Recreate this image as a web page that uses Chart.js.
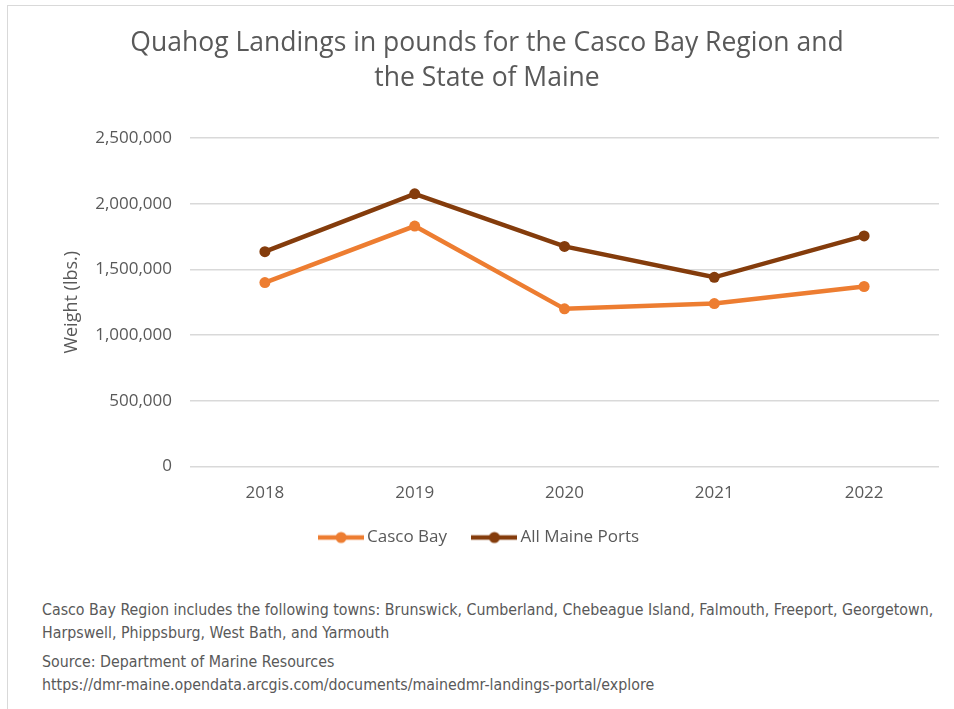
<!DOCTYPE html>
<html>
<head>
<meta charset="utf-8">
<script src="https://cdn.jsdelivr.net/npm/chart.js@4"></script>
<style>
  html, body { margin: 0; padding: 0; background: #fff; }
  #wrap { position: relative; width: 954px; height: 709px; overflow: hidden; }
  #frame { position: absolute; left: 7px; top: 5px; width: 960px; height: 720px; border: 1.5px solid #d9d9d9; box-sizing: border-box; }
  #chart { position: absolute; left: 0; top: 0; }
  .note { position: absolute; left: 42px; color: #595959; font-family: "Liberation Sans Narrow", "DejaVu Sans Condensed", sans-serif; font-size: 15.8px; line-height: 23px; white-space: nowrap; }
</style>
</head>
<body>
<div id="wrap">
  <div id="frame"></div>
  <canvas id="chart" width="954" height="570"></canvas>
  <div class="note" style="top:598px">Casco Bay Region includes the following towns: Brunswick, Cumberland, Chebeague Island, Falmouth, Freeport, Georgetown,<br>Harpswell, Phippsburg, West Bath, and Yarmouth</div>
  <div class="note" style="top:650px">Source: Department of Marine Resources<br>https://dmr-maine.opendata.arcgis.com/documents/mainedmr-landings-portal/explore</div>
</div>
<script>
// --- DATA ---
const years = ['2018', '2019', '2020', '2021', '2022'];
const cascoBay = [1400000, 1830000, 1200000, 1240000, 1370000];
const allMaine = [1635000, 2075000, 1675000, 1440000, 1755000];
const yTicks = [0, 500000, 1000000, 1500000, 2000000, 2500000];

const titleLines = ['Quahog Landings in pounds for the Casco Bay Region and', 'the State of Maine'];
const textColor = '#595959';
const orange = '#ED7D31';
const brown = '#843C0C';

// small line + dot image for the legend, like Excel's marker legend
function legendMark(color) {
    const c = document.createElement('canvas');
    c.width = 46; c.height = 14;
    const g = c.getContext('2d');
    g.strokeStyle = color;
    g.lineWidth = 4.5;
    g.beginPath();
    g.moveTo(0, 7); g.lineTo(46, 7);
    g.stroke();
    g.fillStyle = color;
    g.beginPath();
    g.arc(23, 7, 5.5, 0, Math.PI * 2);
    g.fill();
    return c;
}

const ctx = document.getElementById('chart').getContext('2d');
new Chart(ctx, {
    type: 'line',
    data: {
        labels: years,
        datasets: [
            {
                label: 'Casco Bay',
                data: cascoBay,
                borderColor: orange,
                backgroundColor: orange,
                borderWidth: 4.5,
                pointRadius: 5.5,
                pointHoverRadius: 5.5,
                pointBorderWidth: 0,
                tension: 0
            },
            {
                label: 'All Maine Ports',
                data: allMaine,
                borderColor: brown,
                backgroundColor: brown,
                borderWidth: 4.5,
                pointRadius: 5.5,
                pointHoverRadius: 5.5,
                pointBorderWidth: 0,
                tension: 0
            }
        ]
    },
    options: {
        responsive: false,
        animation: false,
        // left padding keeps the title centred on the (wider) chart frame
        layout: { padding: { left: 35, right: 15, top: 0, bottom: 14 } },
        plugins: {
            title: {
                display: true,
                text: titleLines,
                color: textColor,
                font: { family: 'Open Sans', size: 26.5, weight: 'normal', lineHeight: 1.32 },
                padding: { top: 26, bottom: 42 }
            },
            legend: {
                position: 'bottom',
                labels: {
                    usePointStyle: true,
                    pointStyleWidth: 35,
                    color: textColor,
                    padding: 10,
                    font: { family: 'Open Sans', size: 17 },
                    // trailing spaces widen the gap between items and nudge the row left
                    generateLabels: (chart) => chart.data.datasets.map((ds, i, all) => ({
                        text: ds.label + (i < all.length - 1 ? '\u2002\u2002\u2009' : '\u2002\u2009'),
                        pointStyle: legendMark(ds.borderColor),
                        fontColor: textColor,
                        lineWidth: 0,
                        datasetIndex: i
                    }))
                }
            },
            tooltip: { enabled: false }
        },
        scales: {
            x: {
                offset: true,
                grid: { display: false, drawTicks: false },
                border: { display: false },
                ticks: { color: textColor, padding: 16, font: { family: 'Open Sans', size: 17 } }
            },
            y: {
                min: 0,
                max: 2500000,
                afterBuildTicks: (scale) => { scale.ticks = yTicks.map(v => ({ value: v })); },
                afterFit: (scale) => { scale.width = 155; },
                grid: { color: '#d9d9d9', lineWidth: 1.5, drawTicks: false },
                border: { display: false },
                ticks: {
                    color: textColor,
                    padding: 18,
                    font: { family: 'Open Sans', size: 17 },
                    callback: (v) => Number(v).toLocaleString('en-US')
                },
                title: {
                    display: true,
                    text: 'Weight (lbs.)',
                    color: textColor,
                    font: { family: 'Open Sans', size: 18 },
                    padding: { top: 26 }
                }
            }
        }
    }
});
</script>
</body>
</html>
